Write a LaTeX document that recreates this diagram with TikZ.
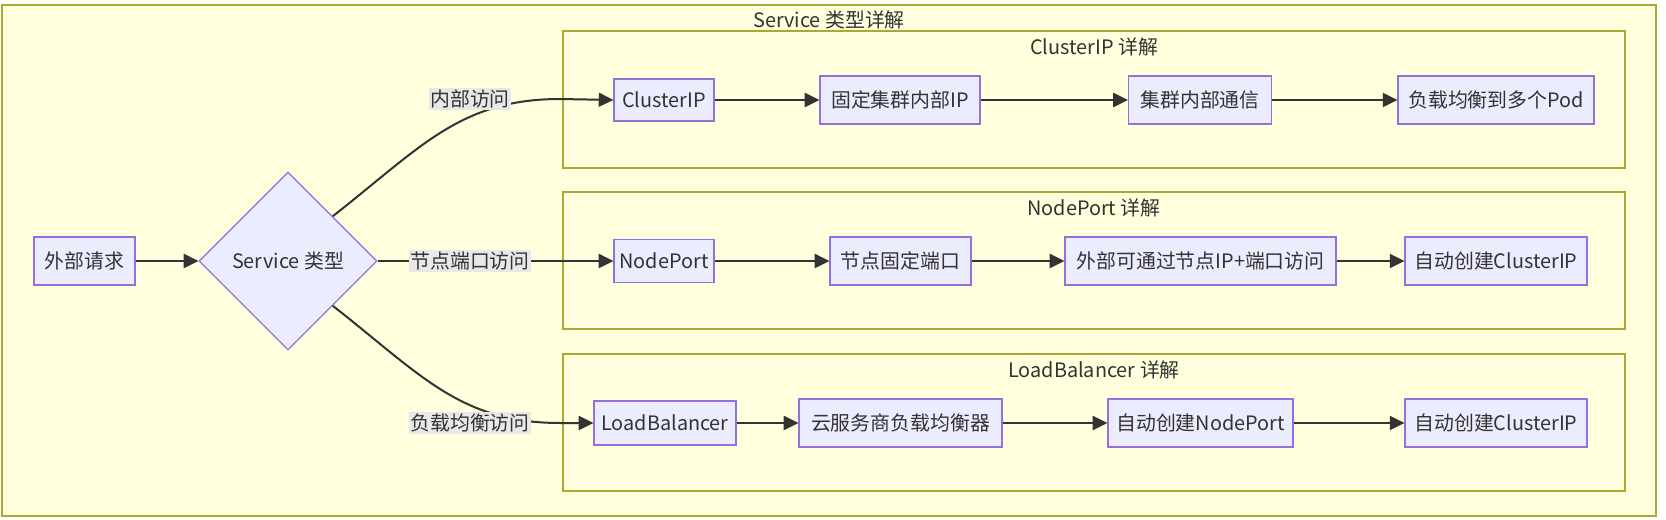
\documentclass[tikz,border=0pt]{standalone}
\usepackage{fontspec}
\setmainfont{Noto Sans CJK SC}
\usetikzlibrary{arrows.meta,shapes.geometric}
\definecolor{clfill}{HTML}{FFFFDE}
\definecolor{clline}{HTML}{AAAA33}
\definecolor{ndfill}{HTML}{ECECFF}
\definecolor{ndline}{HTML}{9370DB}
\definecolor{txt}{HTML}{333333}
\definecolor{lblbg}{HTML}{E8E8E8}
\begin{document}
\begin{tikzpicture}[x=0.75pt,y=-0.75pt,
  font=\fontsize{14.9}{17}\selectfont, text=txt,
  cluster/.style={draw=clline,fill=clfill,line width=0.85pt},
  ttl/.style={inner sep=0pt,text=txt},
  box/.style 2 args={draw=ndline,fill=ndfill,line width=0.9pt,rectangle,inner sep=0pt,
    minimum width=#1*0.75pt,minimum height=#2*0.75pt},
  dia/.style={draw=ndline,fill=ndfill,line width=0.9pt,diamond,inner sep=0pt,
    minimum width=178*0.75pt,minimum height=178*0.75pt},
  edge/.style={draw=txt,line width=1.5pt,-{Triangle[length=11pt,width=10.5pt]}},
  lbl/.style={fill=lblbg,inner sep=1.2pt,text=txt}]
\useasboundingbox (0,0) rectangle (1666,520);
% clusters
\draw[cluster] (2,5) rectangle (1656,516);
\node[ttl] (tOuter) at (829,20) {Service 类型详解};
\draw[cluster] (563,31) rectangle (1625,168);
\node[ttl] (tC) at (1094,47) {ClusterIP 详解};
\draw[cluster] (563,192) rectangle (1625,329);
\node[ttl] (tN) at (1094,208) {NodePort 详解};
\draw[cluster] (563,354) rectangle (1625,491);
\node[ttl] (tL) at (1094,370) {LoadBalancer 详解};
% nodes
\node[box={101}{48}] (ext) at (84.5,261) {外部请求};
\node[dia] (svc) at (288,261) {Service 类型};
\node[box={100}{42}] (c1) at (664,100) {ClusterIP};
\node[box={160}{48}] (c2) at (900,100) {固定集群内部IP};
\node[box={143}{48}] (c3) at (1200,100) {集群内部通信};
\node[box={196}{48}] (c4) at (1496,100) {负载均衡到多个Pod};
\node[box={100}{43}] (n1) at (664,261) {NodePort};
\node[box={141}{48}] (n2) at (900.5,261) {节点固定端口};
\node[box={271}{48}] (n3) at (1200.5,261) {外部可通过节点IP+端口访问};
\node[box={182}{48}] (n4) at (1496,261) {自动创建ClusterIP};
\node[box={142}{44}] (b1) at (665,423) {LoadBalancer};
\node[box={203}{48}] (b2) at (900.5,423) {云服务商负载均衡器};
\node[box={185}{48}] (b3) at (1200.5,423) {自动创建NodePort};
\node[box={182}{48}] (b4) at (1496,423) {自动创建ClusterIP};
% edges
\draw[edge] (ext) -- (svc);
\draw[edge] (svc.north east) .. controls (420,148) and (460,99) .. (560,99) -- (c1.west);
\draw[edge] (svc.east) -- (n1.west);
\draw[edge] (svc.south east) .. controls (420,374) and (460,423) .. (560,423) -- (b1.west);
\draw[edge] (c1) -- (c2);
\draw[edge] (c2) -- (c3);
\draw[edge] (c3) -- (c4);
\draw[edge] (n1) -- (n2);
\draw[edge] (n2) -- (n3);
\draw[edge] (n3) -- (n4);
\draw[edge] (b1) -- (b2);
\draw[edge] (b2) -- (b3);
\draw[edge] (b3) -- (b4);
% edge labels
\node[lbl] (l1) at (470,99) {内部访问};
\node[lbl] (l2) at (470,261) {节点端口访问};
\node[lbl] (l3) at (470,423) {负载均衡访问};
\end{tikzpicture}
\end{document}
